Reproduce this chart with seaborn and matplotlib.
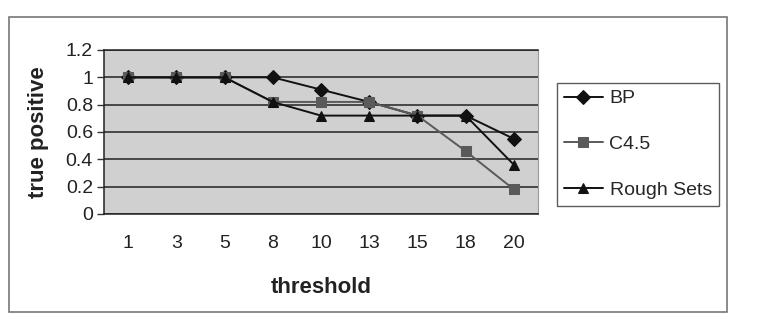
import seaborn as sns
import matplotlib.pyplot as plt
import pandas as pd
from matplotlib.patches import Rectangle
from matplotlib.ticker import FixedLocator, FormatStrFormatter

thresholds = ["1", "3", "5", "8", "10", "13", "15", "18", "20"]
bp = [1, 1, 1, 1, 0.91, 0.82, 0.72, 0.72, 0.55]
c45 = [1, 1, 1, 0.82, 0.82, 0.82, 0.72, 0.46, 0.18]
rough = [1, 1, 1, 0.82, 0.72, 0.72, 0.72, 0.72, 0.36]
methods = ["BP", "C4.5", "Rough Sets"]

rows = []
for name, vals in zip(methods, [bp, c45, rough]):
    for t, v in zip(thresholds, vals):
        rows.append({"threshold": t, "true positive": v, "method": name})
df = pd.DataFrame(rows)

sns.set_style("white")
plt.rcParams["font.family"] = ["Liberation Sans", "DejaVu Sans"]

fig = plt.figure(figsize=(7.64, 3.36), dpi=100)
ax = fig.add_axes([104 / 764, 1 - 214 / 336, 434 / 764, 164 / 336])
ax.set_facecolor("#d0d0d0")

palette = {"BP": "#111111", "C4.5": "#5a5a5a", "Rough Sets": "#111111"}
markers = {"BP": "D", "C4.5": "s", "Rough Sets": "^"}
sns.lineplot(data=df, x="threshold", y="true positive", hue="method",
             style="method", markers=markers, dashes=False, palette=palette,
             sort=False, ax=ax, linewidth=1.4, markersize=7)
for ln in ax.lines:
    ln.set_markeredgecolor(ln.get_color())

ax.set_xlim(-0.5, len(thresholds) - 0.5)
ax.set_ylim(0, 1.2)
ax.set_yticks([0, 0.2, 0.4, 0.6, 0.8, 1.0, 1.2])
ax.yaxis.set_major_formatter(FormatStrFormatter("%g"))
ax.yaxis.grid(True, color="#222222", linewidth=1.1)
ax.set_axisbelow(True)

ax.xaxis.set_minor_locator(FixedLocator([i - 0.5 for i in range(len(thresholds) + 1)]))
ax.tick_params(axis="x", which="major", length=0, pad=15, labelsize=14, colors="#222222")
ax.tick_params(axis="x", which="minor", length=5, width=1, color="#333333", direction="out")
ax.tick_params(axis="y", which="major", length=5, width=1, color="#333333", direction="out",
               labelsize=14, labelcolor="#222222", pad=3)
ax.tick_params(bottom=True, left=True)

for s in ["left", "bottom", "top"]:
    ax.spines[s].set_color("#222222")
    ax.spines[s].set_linewidth(1.1)
ax.spines["right"].set_color("#999999")

ax.set_xlabel("threshold", fontsize=16, fontweight="bold", labelpad=18, color="#222222")
ax.set_ylabel("true positive", fontsize=16, fontweight="bold", labelpad=12, color="#222222")

handles, labels = ax.get_legend_handles_labels()
ax.get_legend().remove()
leg = fig.legend(handles, labels, loc="upper left", bbox_to_anchor=(557 / 764, 1 - 83 / 336),
                 fontsize=14, frameon=True, fancybox=False, edgecolor="#333333",
                 handlelength=2.0, handletextpad=0.35, labelspacing=1.45, borderpad=0.35,
                 borderaxespad=0)
leg.get_frame().set_linewidth(1.0)

fig.patches.append(Rectangle((9 / 764, 1 - 312 / 336), 718 / 764, 295 / 336,
                             transform=fig.transFigure, fill=False,
                             edgecolor="#777777", linewidth=1.2))

fig.savefig("out.png", dpi=100)
